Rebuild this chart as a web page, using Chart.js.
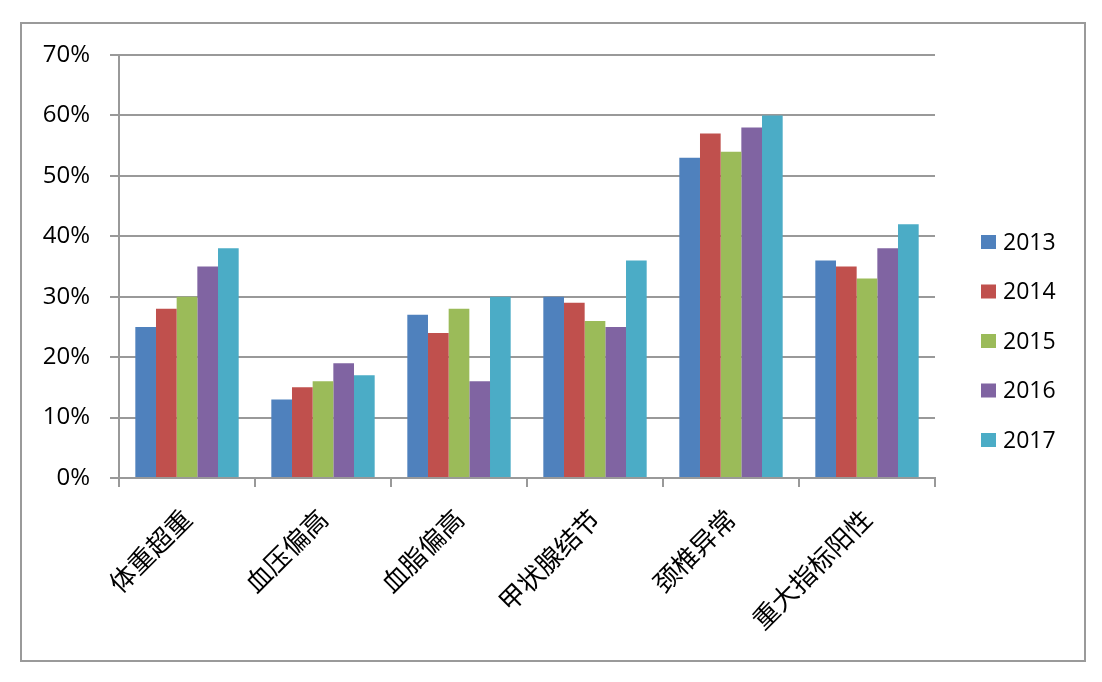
<!DOCTYPE html>
<html><head><meta charset="utf-8">
<script src="https://cdn.jsdelivr.net/npm/chart.js@4"></script>
<style>html,body{margin:0;padding:0;background:#fff;}#wrap{position:absolute;left:0;top:0;width:1102px;height:682px;}</style>
</head><body><div id="wrap"><canvas id="c" width="1102" height="682"></canvas></div>
<script>
const categories = ['体重超重','血压偏高','血脂偏高','甲状腺结节','颈椎异常','重大指标阳性'];
const seriesNames = ['2013','2014','2015','2016','2017'];
const v2013 = [25,13,27,30,53,36];
const v2014 = [28,15,24,29,57,35];
const v2015 = [30,16,28,26,54,33];
const v2016 = [35,19,16,25,58,38];
const v2017 = [38,17,30,36,60,42];
const colors = ['#4F81BD','#C0504D','#9BBB59','#8064A2','#4BACC6'];
const yTicks = [0,10,20,30,40,50,60,70];

const framePlugin = {
  id:'frame',
  beforeDraw(chart){
    const ctx = chart.ctx;
    ctx.save();
    ctx.fillStyle='#fff';ctx.fillRect(0,0,chart.width,chart.height);
    ctx.strokeStyle='#9a9a9a';ctx.lineWidth=2;
    ctx.strokeRect(21,23,1064,638);
    ctx.restore();
  },
  afterDraw(chart){
    const ctx = chart.ctx;
    ctx.save();
    ctx.font = '23px "Open Sans", "Liberation Sans", sans-serif';
    ctx.textBaseline = 'middle';
    ctx.textAlign = 'left';
    const ds = chart.data.datasets;
    const step = 49.5, cy0 = 242;
    ds.forEach((d,i)=>{
      const cy = cy0 + i*step;
      ctx.fillStyle = d.backgroundColor;
      ctx.fillRect(981, cy-7, 15, 14);
      ctx.fillStyle = '#000';
      ctx.fillText(d.label, 1003, cy+1);
    });
    ctx.restore();
  }
};

new Chart(document.getElementById('c'),{
  type:'bar',
  data:{
    labels:categories,
    datasets:[v2013,v2014,v2015,v2016,v2017].map((d,i)=>({
      label:seriesNames[i], data:d, backgroundColor:colors[i],
      borderWidth:0, barPercentage:1, categoryPercentage:0.76
    }))
  },
  options:{
    responsive:false, animation:false,
    layout:{padding:{left:0,top:55,right:1102-935,bottom:0}},
    plugins:{
      legend:{display:false},
      tooltip:{enabled:false}
    },
    scales:{
      x:{
        grid:{display:true,drawOnChartArea:false,drawTicks:true,tickLength:9,color:'#999',lineWidth:2},
        border:{display:true,color:'#999',width:2},
        ticks:{color:'#000',maxRotation:45,minRotation:45,padding:16,
          font:{family:'"Noto Sans CJK SC", sans-serif',size:26}},
        afterFit(s){ s.height = 682-478; }
      },
      y:{
        min:0,max:70,
        afterBuildTicks(s){ s.ticks = yTicks.map(v=>({value:v})); },
        grid:{color:'#999',lineWidth:2,tickLength:9},
        border:{display:true,color:'#999',width:2},
        ticks:{color:'#000',padding:20,callback:v=>v+'%',
          font:{family:'"Open Sans", "Liberation Sans", sans-serif',size:24}},
        afterFit(s){ s.width = 119; }
      }
    }
  },
  plugins:[framePlugin]
});
</script></body></html>
